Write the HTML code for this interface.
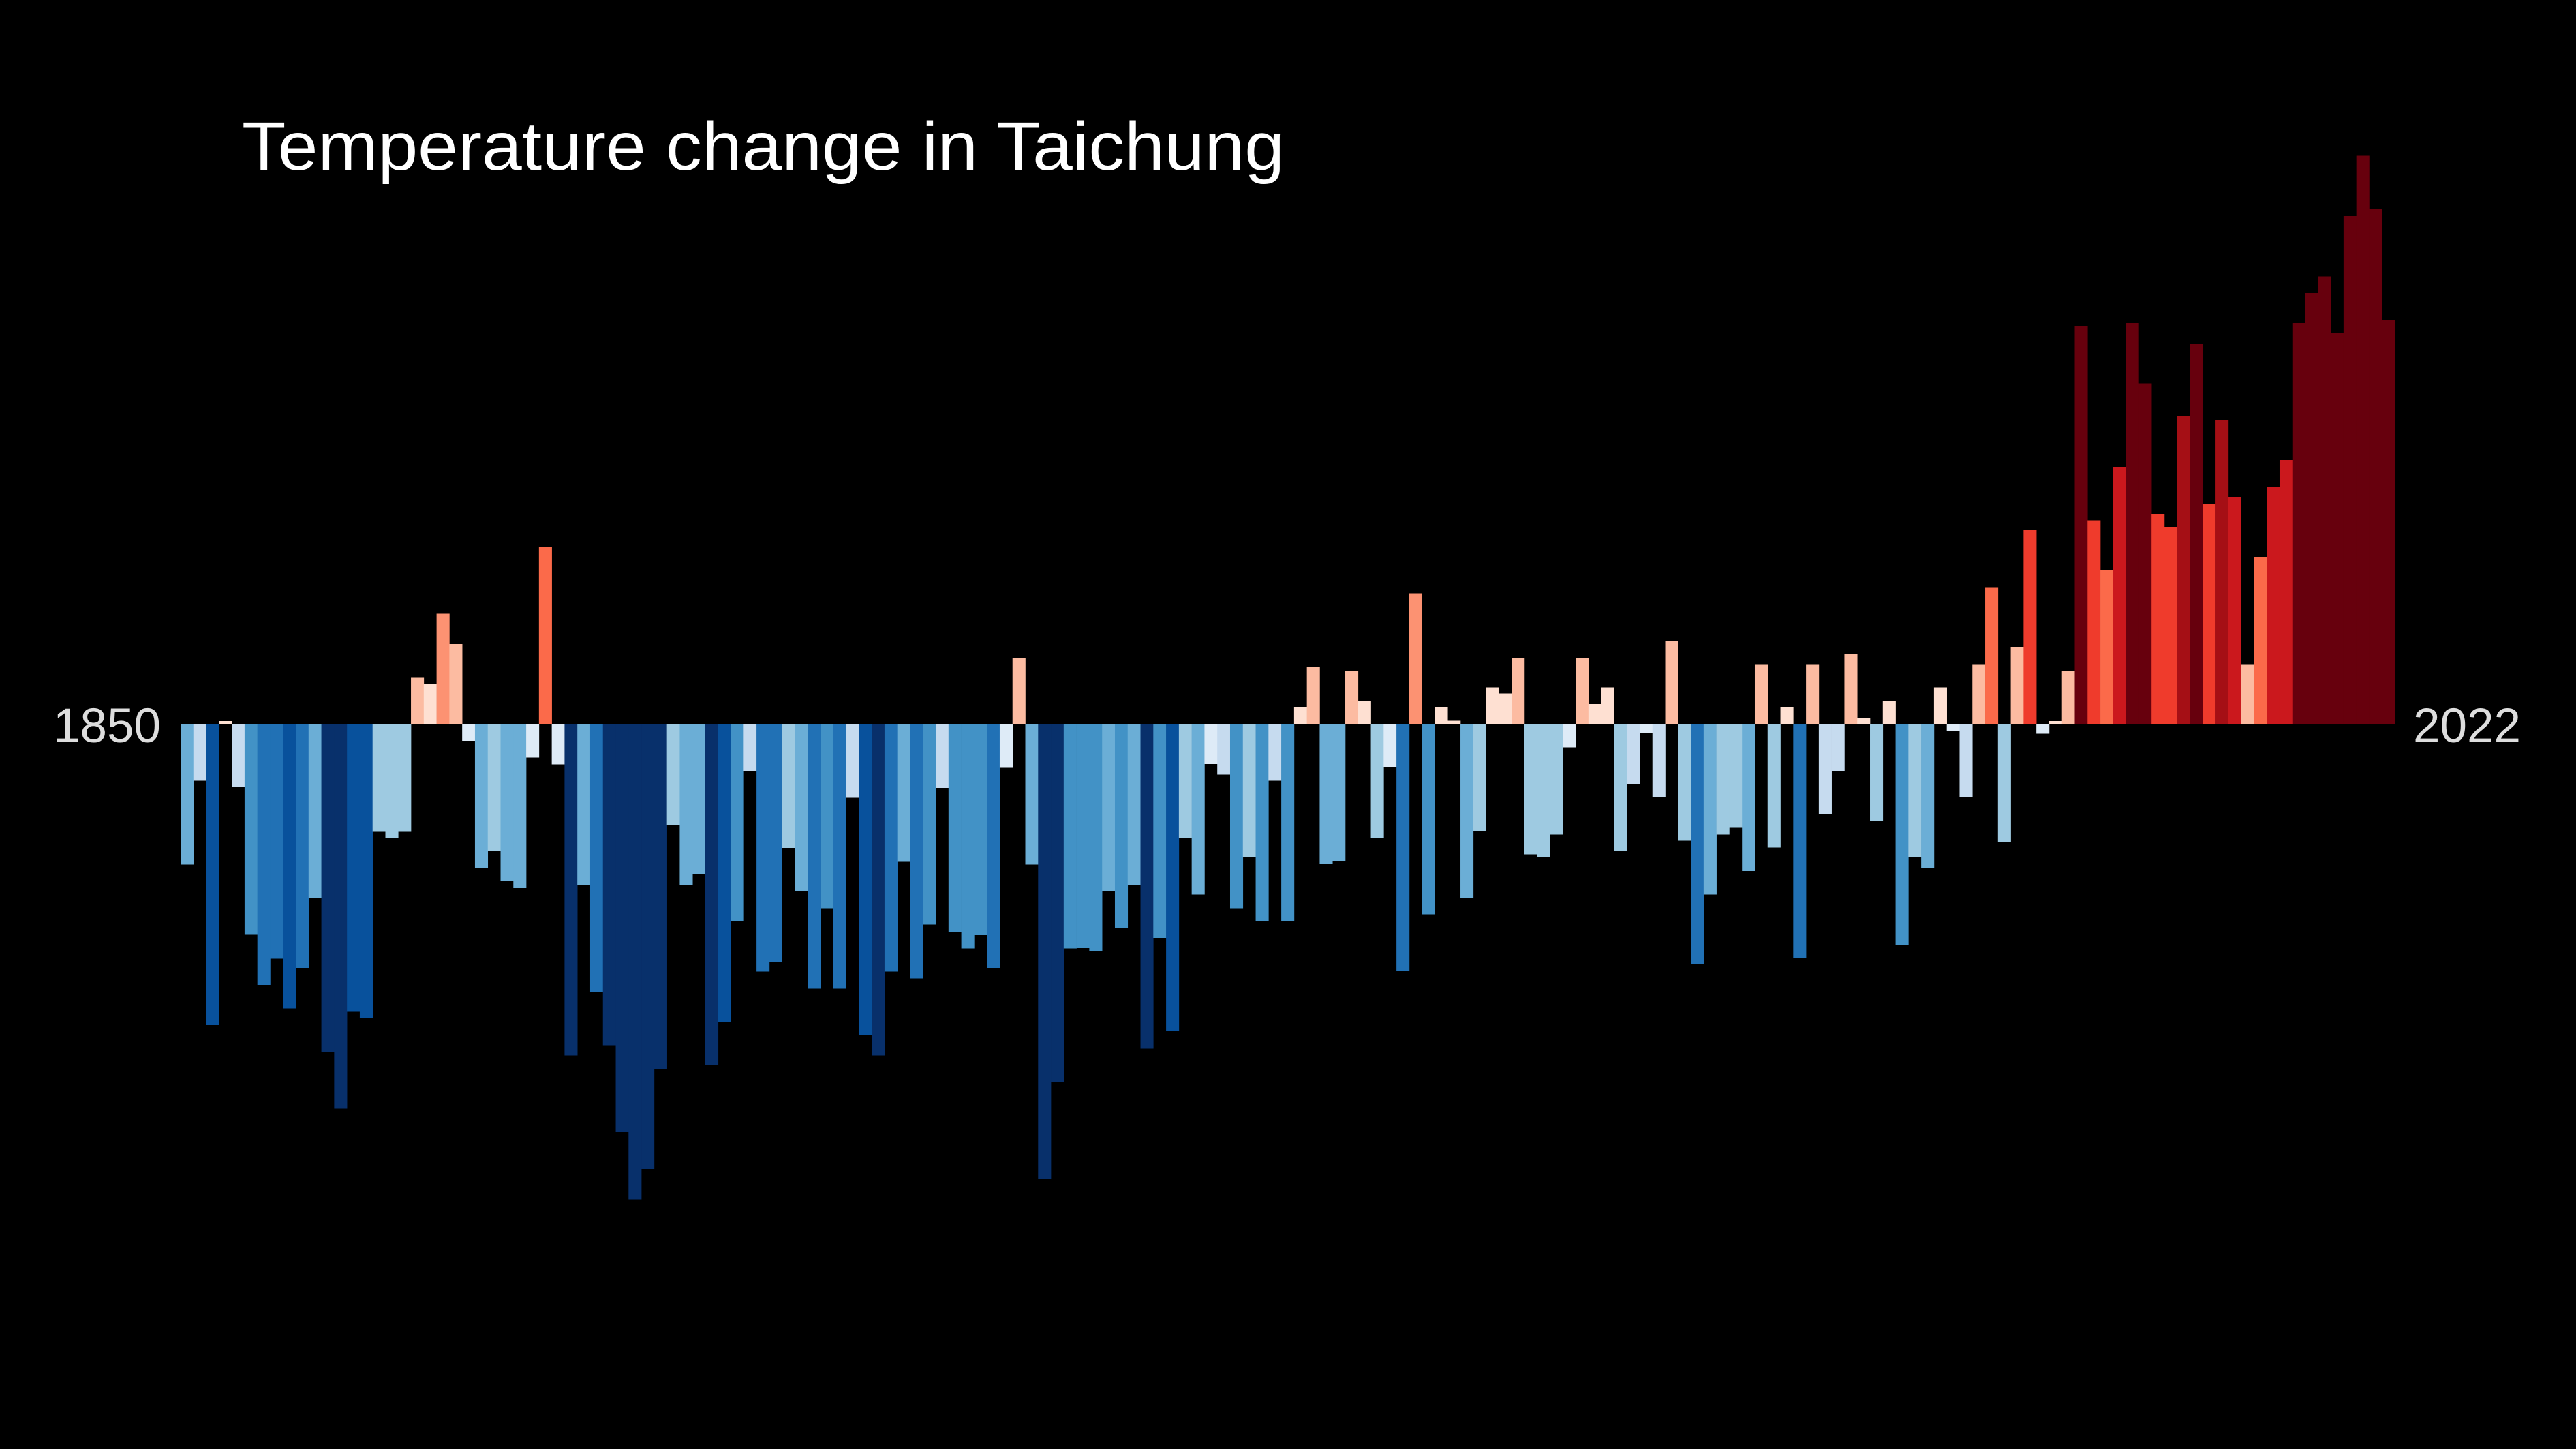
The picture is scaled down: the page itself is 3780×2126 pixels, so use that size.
<!DOCTYPE html>
<html><head><meta charset="utf-8"><style>
html,body{margin:0;padding:0;background:#000;}
svg{display:block;}
</style></head><body>
<svg id="chart" width="3780" height="2126" viewBox="0 0 3780 2126" xmlns="http://www.w3.org/2000/svg">
<rect x="0" y="0" width="3780" height="2126" fill="#000"/>
<text x="355" y="249" font-family="Liberation Sans, Arial, sans-serif" font-size="100" fill="#ffffff" textLength="1530" lengthAdjust="spacingAndGlyphs">Temperature change in Taichung</text>
<g id="bars"></g>
<text id="startLabel" x="236" y="1089" text-anchor="end" font-family="Liberation Sans, Arial, sans-serif" font-size="71" fill="#dddddd"></text>
<text id="endLabel" x="3541" y="1089" text-anchor="start" font-family="Liberation Sans, Arial, sans-serif" font-size="71" fill="#dddddd"></text>
</svg>
<script>
const startYear = 1850;
const endYear = 2022;
const anomalies = [
-0.413,-0.167,-0.884,0.008,-0.186,-0.619,-0.766,-0.689,-0.835,-0.717,
-0.510,-0.963,-1.129,-0.845,-0.864,-0.315,-0.335,-0.315,0.135,0.117,
0.323,0.234,-0.050,-0.423,-0.374,-0.462,-0.482,-0.099,0.520,-0.119,
-0.973,-0.472,-0.786,-0.943,-1.198,-1.395,-1.306,-1.013,-0.296,-0.472,
-0.442,-1.002,-0.875,-0.580,-0.138,-0.727,-0.698,-0.364,-0.492,-0.777,
-0.541,-0.777,-0.217,-0.914,-0.973,-0.727,-0.405,-0.747,-0.589,-0.188,
-0.610,-0.659,-0.620,-0.717,-0.129,0.194,-0.413,-1.336,-1.050,-0.659,
-0.658,-0.668,-0.492,-0.599,-0.472,-0.953,-0.628,-0.902,-0.334,-0.501,
-0.118,-0.149,-0.541,-0.392,-0.580,-0.167,-0.580,0.049,0.167,-0.412,
-0.403,0.156,0.067,-0.334,-0.127,-0.726,0.383,-0.559,0.049,0.009,
-0.510,-0.314,0.107,0.089,0.194,-0.383,-0.392,-0.325,-0.069,0.194,
0.058,0.107,-0.372,-0.176,-0.028,-0.216,0.243,-0.343,-0.706,-0.501,
-0.325,-0.305,-0.432,0.175,-0.363,0.049,-0.686,0.175,-0.265,-0.138,
0.205,0.018,-0.285,0.067,-0.648,-0.392,-0.423,0.107,-0.020,-0.216,
0.175,0.401,-0.347,0.226,0.568,-0.029,0.008,0.156,1.166,0.597,
0.450,0.754,1.176,0.999,0.616,0.578,0.902,1.116,0.645,0.892,
0.666,0.175,0.490,0.695,0.774,1.176,1.264,1.313,1.147,1.490,
1.667,1.510,1.186
];
const blueColors = ["#deebf7","#c6dbef","#9ecae1","#6baed6","#4292c6","#2171b5","#08519c","#08306b"];
const redColors = ["#fee0d2","#fcbba1","#fc9272","#fb6a4a","#ef3b2c","#cb181d","#a50f15","#67000d"];
const redThresholds = [0.134,0.31,0.40,0.56,0.66,0.80,0.95];

const plotLeft = 265, plotRight = 3514, baseline = 1062, pxPerDeg = 500;
const n = anomalies.length;
const bw = (plotRight - plotLeft) / n;
function xScale(i){ return plotLeft + i * bw; }
function yScale(v){ return baseline - v * pxPerDeg; }
function colorFor(v){
  if (v < 0) {
    let k = Math.min(7, Math.floor(-v / 0.134));
    return blueColors[k];
  }
  let k = 0;
  while (k < redThresholds.length && v >= redThresholds[k]) k++;
  return redColors[k];
}
const g = document.getElementById('bars');
const NS = 'http://www.w3.org/2000/svg';
anomalies.forEach((v, i) => {
  const r = document.createElementNS(NS, 'rect');
  const y0 = yScale(0), y1 = yScale(v);
  r.setAttribute('x', xScale(i).toFixed(2));
  r.setAttribute('width', (bw + 0.3).toFixed(2));
  r.setAttribute('y', Math.min(y0, y1).toFixed(2));
  r.setAttribute('height', Math.max(1, Math.abs(y1 - y0)).toFixed(2));
  r.setAttribute('fill', colorFor(v));
  
  
  g.appendChild(r);
});
document.getElementById('startLabel').textContent = String(startYear);
document.getElementById('endLabel').textContent = String(endYear);
</script>
</body></html>
